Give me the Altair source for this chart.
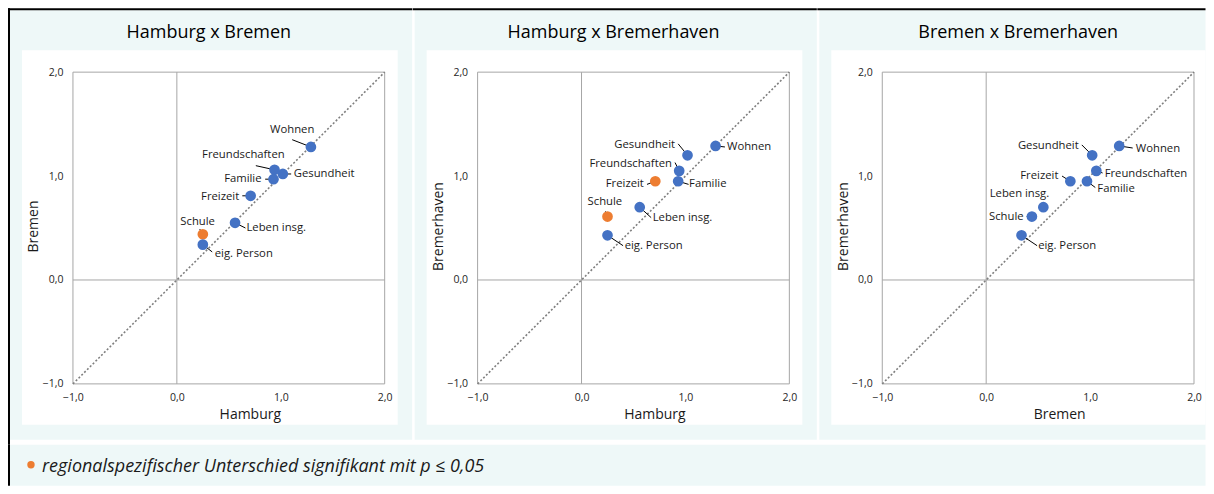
import altair as alt
import pandas as pd

# ---------------- data ----------------
ITEMS = ["Wohnen", "Gesundheit", "Freundschaften", "Familie", "Freizeit",
         "Leben insg.", "Schule", "eig. Person"]
HAMBURG = [1.29, 1.02, 0.94, 0.93, 0.71, 0.56, 0.25, 0.25]
BREMEN = [1.28, 1.02, 1.06, 0.97, 0.81, 0.55, 0.44, 0.34]
BREMERHAVEN = [1.29, 1.20, 1.05, 0.95, 0.95, 0.70, 0.61, 0.43]

SIG_HH_HB = [False, False, False, False, False, False, True, False]
SIG_HH_BHV = [False, False, False, False, True, False, True, False]
SIG_HB_BHV = [False, False, False, False, False, False, False, False]

TICKS = [-1.0, 0.0, 1.0, 2.0]
DIAGONAL = [-1.0, 2.0]
ZERO = [0.0]
PANEL_TITLES = ["Hamburg x Bremen", "Hamburg x Bremerhaven", "Bremen x Bremerhaven"]
X_TITLES = ["Hamburg", "Hamburg", "Bremen"]
Y_TITLES = ["Bremen", "Bremerhaven", "Bremerhaven"]
FOOTNOTE = "regionalspezifischer Unterschied signifikant mit p \u2264 0,05"

# label placement (data units): anchor, alignment, end of leader line
P1_LX = [1.11, 1.125, 0.64, 0.815, 0.60, 0.67, 0.20, 0.365]
P1_LY = [1.44, 1.02, 1.20, 0.97, 0.80, 0.50, 0.56, 0.25]
P1_AL = ["center", "left", "center", "right", "right", "left", "center", "left"]
P1_EX = [1.11, 1.10, 0.76, 0.85, 0.63, 0.66, 0.22, 0.34]
P1_EY = [1.35, 1.02, 1.10, 0.97, 0.81, 0.50, 0.49, 0.27]

P2_LX = [1.40, 0.90, 0.87, 1.035, 0.60, 0.685, 0.225, 0.415]
P2_LY = [1.28, 1.30, 1.12, 0.92, 0.92, 0.60, 0.75, 0.33]
P2_AL = ["left", "right", "right", "left", "right", "left", "center", "left"]
P2_EX = [1.38, 0.93, 0.90, 1.03, 0.63, 0.67, 0.23, 0.40]
P2_EY = [1.28, 1.31, 1.13, 0.92, 0.92, 0.60, 0.66, 0.33]

P3_LX = [1.44, 0.89, 1.14, 1.07, 0.695, 0.32, 0.36, 0.50]
P3_LY = [1.26, 1.29, 1.015, 0.88, 1.00, 0.83, 0.61, 0.33]
P3_AL = ["left", "right", "left", "left", "right", "center", "right", "left"]
P3_EX = [1.41, 0.92, 1.12, 1.05, 0.73, 0.55, 0.39, 0.49]
P3_EY = [1.27, 1.30, 1.03, 0.89, 1.00, 0.70, 0.61, 0.33]

# ---------------- style ----------------
FONT = "Open Sans"
BLUE = "#4472C4"
ORANGE = "#ED7D31"
CYAN = "#EEF8F8"
GRID = "#A6A6A6"
DIAG = "#7F7F7F"
W = 312
H = 312

one = pd.DataFrame({"k": [0]})


def panel(idx, xs, ys, sig, lx, ly, al, ex, ey, right_edge, first=False):
    df = pd.DataFrame({
        "item": ITEMS, "x": xs, "y": ys,
        "sig": ["ja" if s else "nein" for s in sig],
        "lx": lx, "ly": ly, "al": al, "ex": ex, "ey": ey,
    })
    zero_df = pd.DataFrame({"v": ZERO})
    diag_df = pd.DataFrame({"d": DIAGONAL})
    sc = alt.Scale(domain=[-1, 2], nice=False, zero=False)
    lab = "replace(format(datum.value, '.1f'), '.', ',')"
    xaxis = alt.Axis(values=TICKS, labelExpr=lab, title=X_TITLES[idx], grid=False,
                     domain=False, ticks=False, labelPadding=9, labelFlush=False,
                     labelFontSize=10.5, labelFont=FONT, labelColor="#262626",
                     titleFont=FONT, titleFontSize=14, titleFontWeight="normal",
                     titleColor="#1a1a1a", titleX=W / 2 + 21, titleY=31,
                     titleBaseline="middle", zindex=1)
    yaxis = alt.Axis(values=TICKS, labelExpr=lab, title=Y_TITLES[idx], grid=False,
                     domain=False, ticks=False, labelPadding=10, labelFlush=False,
                     labelFontSize=10.5, labelFont=FONT, labelColor="#262626",
                     titleFont=FONT, titleFontSize=14, titleFontWeight="normal",
                     titleColor="#1a1a1a", titleX=-39, titleY=H / 2 - 2,
                     titleBaseline="middle", zindex=1)

    def X(f):
        return alt.X(f, type="quantitative", scale=sc, axis=xaxis)

    def Y(f):
        return alt.Y(f, type="quantitative", scale=sc, axis=yaxis)

    white_right = min(325, right_edge)
    layers = [
        alt.Chart(one).mark_rect(color=CYAN).encode(
            x=alt.value(-63), x2=alt.value(right_edge), y=alt.value(-62), y2=alt.value(368)),
        alt.Chart(one).mark_rect(color="white").encode(
            x=alt.value(-51), x2=alt.value(white_right), y=alt.value(-22), y2=alt.value(353)),
        alt.Chart(one).mark_rect(color="black").encode(
            x=alt.value(-65), x2=alt.value(right_edge), y=alt.value(-64), y2=alt.value(-62)),
    ]
    if first:
        layers.append(alt.Chart(one).mark_rect(color="black").encode(
            x=alt.value(-65), x2=alt.value(-63), y=alt.value(-64), y2=alt.value(373)))
    layers += [
        alt.Chart(one).mark_rect(fill=None, stroke=GRID, strokeWidth=1).encode(
            x=alt.value(0), x2=alt.value(W), y=alt.value(0), y2=alt.value(H)),
        alt.Chart(zero_df).mark_rule(color=GRID, strokeWidth=1).encode(x=X("v")),
        alt.Chart(zero_df).mark_rule(color=GRID, strokeWidth=1).encode(y=Y("v")),
        alt.Chart(diag_df).mark_line(color=DIAG, strokeWidth=1.6, strokeDash=[2, 2]).encode(
            x=X("d"), y=Y("d")),
        alt.Chart(df).mark_rule(color="black", strokeWidth=1).encode(
            x=X("x"), y=Y("y"), x2="ex", y2="ey"),
        alt.Chart(df).mark_circle(size=115, opacity=1).encode(
            x=X("x"), y=Y("y"),
            color=alt.Color("sig:N", scale=alt.Scale(domain=["nein", "ja"], range=[BLUE, ORANGE]),
                            legend=None)),
    ]
    for a in ["left", "right", "center"]:
        layers.append(
            alt.Chart(df).transform_filter(alt.datum.al == a).mark_text(
                align=a, baseline="middle", font=FONT, fontSize=11.3, color="#1a1a1a").encode(
                x=X("lx"), y=Y("ly"), text="item:N"))
    layers.append(
        alt.Chart(one).mark_text(font=FONT, fontSize=18, color="black", baseline="middle",
                                 align="center").encode(
            x=alt.value(136), y=alt.value(-39), text=alt.value(PANEL_TITLES[idx])))
    return alt.layer(*layers).properties(width=W, height=H)


p1 = panel(0, HAMBURG, BREMEN, SIG_HH_HB, P1_LX, P1_LY, P1_AL, P1_EX, P1_EY, 339.5, first=True)
p2 = panel(1, HAMBURG, BREMERHAVEN, SIG_HH_BHV, P2_LX, P2_LY, P2_AL, P2_EX, P2_EY, 339.5)
p3 = panel(2, BREMEN, BREMERHAVEN, SIG_HB_BHV, P3_LX, P3_LY, P3_AL, P3_EX, P3_EY, 323.5)

FOOT_H = 41
FL = -65          # footnote extends left to the outer border (same as panels)
FR = 1133.5       # right edge of the drawing
foot = alt.layer(
    alt.Chart(one).mark_rect(color=CYAN).encode(
        x=alt.value(FL + 2), x2=alt.value(FR), y=alt.value(0), y2=alt.value(FOOT_H)),
    alt.Chart(one).mark_rect(color="black").encode(
        x=alt.value(FL), x2=alt.value(FL + 2), y=alt.value(0), y2=alt.value(FOOT_H)),
    alt.Chart(one).mark_circle(size=55, opacity=1, color=ORANGE).encode(
        x=alt.value(FL + 23), y=alt.value(20)),
    alt.Chart(one).mark_text(font=FONT, fontSize=18, fontStyle="italic", color="#1a1a1a",
                             align="left", baseline="middle").encode(
        x=alt.value(FL + 34), y=alt.value(22), text=alt.value(FOOTNOTE)),
).properties(width=W, height=FOOT_H)

chart = alt.vconcat(
    alt.hconcat(p1, p2, p3, spacing=0),
    foot,
    spacing=0,
).properties(padding=0, background="white").configure_view(stroke=None)

chart.save("out.html", embed_options={"renderer": "svg", "actions": False})
